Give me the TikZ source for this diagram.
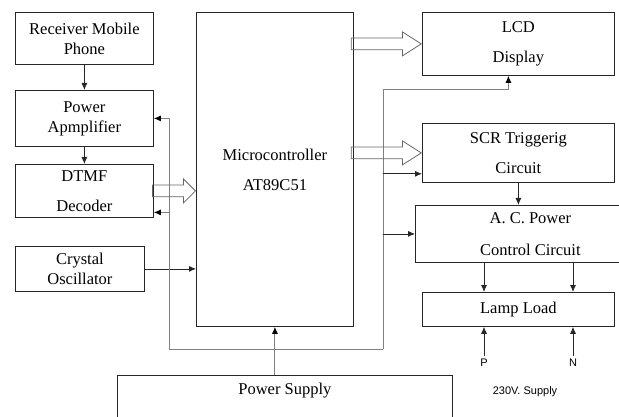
\documentclass[tikz,border=0pt]{standalone}
\usepackage{fontspec}
\setmainfont{Liberation Serif}
\newfontfamily\labelfont{Liberation Sans}
\usetikzlibrary{shapes.arrows, arrows.meta, positioning, calc}

\begin{document}
\begin{tikzpicture}[
    x=1pt, y=-1pt,
    font=\fontsize{16.5}{20}\selectfont,
    block/.style={rectangle, draw=black!85, line width=0.8pt, align=center, inner sep=0pt, anchor=north west},
    wire/.style={draw=black!50, line width=1pt},
    arrow/.style={draw=black!85, line width=0.8pt, -{Latex[length=7pt,width=6pt]}},
    grayarrow/.style={wire, -{Latex[length=7pt,width=6pt,black]}},
    hollow/.style={single arrow, draw=black!60, line width=0.8pt, inner sep=5.5pt, single arrow head extend=6pt, anchor=tip},
    supply/.style={font=\labelfont\fontsize{11}{13}\selectfont}
]
\useasboundingbox (0,0) rectangle (619,417);

% Left column
\node[block, minimum width=138, minimum height=52] (rx) at (15,12) {Receiver Mobile\\Phone};
\node[block, minimum width=138, minimum height=56] (amp) at (15,90) {Power\\Apmplifier};
\node[block, minimum width=138, minimum height=53] (dec) at (15,164) {DTMF\\[10pt]Decoder};
\node[block, minimum width=129, minimum height=45] (xtal) at (15,246) {Crystal\\Oscillator};

% Controller
\node[block, minimum width=157, minimum height=314] (micro) at (196,12) {Microcontroller\\[10pt]AT89C51};

% Right column
\node[block, minimum width=192, minimum height=63] (lcd) at (422,12) {LCD\\[10pt]Display};
\node[block, minimum width=192, minimum height=59] (scr) at (422,123) {SCR Triggerig\\[10pt]Circuit};
\node[block, minimum width=230, minimum height=57] (ac) at (415,205) {A. C. Power\\[12pt]Control Circuit};
\node[block, minimum width=192, minimum height=34] (lamp) at (422,292) {Lamp Load};

% Supply
\node[block, minimum width=335, minimum height=60] (pwr) at (117,375) {};
\node[below=5pt of pwr.north] (pwrlabel) {Power Supply};
\node[supply] (p) at (484,363) {P};
\node[supply] (n) at (573,363) {N};
\node[supply] (mains) at (525,392) {230V. Supply};

% Arrows
\draw[arrow] (rx) -- (amp);
\draw[arrow] (amp) -- (dec);
\draw[arrow] (xtal.east) -- (xtal.east -| micro.west);
\draw[arrow] (scr.south) -- (scr.south |- ac.north);
\draw[arrow] (ac.south -| p) -- (lamp.north -| p);
\draw[arrow] (ac.south -| n) -- (lamp.north -| n);
\draw[arrow] (p.north) -- (lamp.south -| p);
\draw[arrow] (n.north) -- (lamp.south -| n);

% Power bus
\coordinate (busL) at (169,349);
\coordinate (busR) at (383,349);
\coordinate (dectap) at ([yshift=-21.5pt]dec.east);
\coordinate (lcdtap) at ([xshift=-10pt,yshift=-14pt]lcd.south);
\coordinate (scrtap) at ([yshift=9pt]scr.south west);
\draw[wire] (busL) -- (busR);
\draw[grayarrow] (busL) |- (amp.east);
\draw[grayarrow] (busL |- dectap) -- (dectap);
\draw[grayarrow] (busR) |- (lcdtap) -- ([xshift=-10pt]lcd.south);
\draw[arrow] (busR |- scrtap) -- (scrtap);
\draw[arrow] (busR |- ac.west) -- (ac.west);
\draw[grayarrow] (pwr.north -| micro.south) -- (micro.south);

% Data paths
\node[hollow, minimum height=43, single arrow tip angle=90] (hdec) at (dec.east -| micro.west) {};
\node[hollow, minimum height=70, single arrow tip angle=65] (hlcd) at (lcd.west) {};
\node[hollow, minimum height=70, single arrow tip angle=65] (hscr) at (scr.west) {};

\end{tikzpicture}
\end{document}
